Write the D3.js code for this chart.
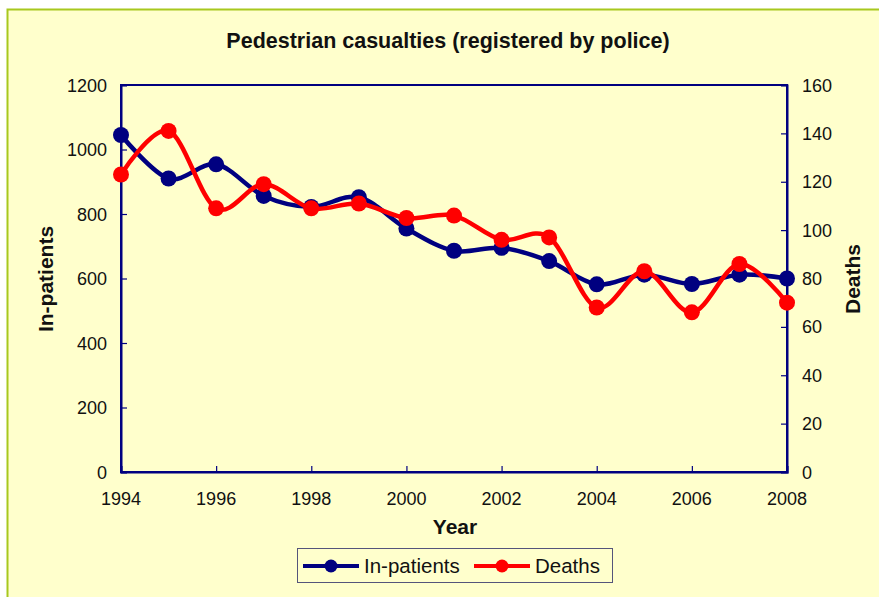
<!DOCTYPE html>
<html><head><meta charset="utf-8">
<script src="https://cdn.jsdelivr.net/npm/d3@7"></script>
<style>body{margin:0;background:#fff;}svg{display:block;font-family:"Liberation Sans",Arial,sans-serif;}</style>
</head><body><svg id="c" width="879" height="597"></svg>
<script>
const years = [1994,1995,1996,1997,1998,1999,2000,2001,2002,2003,2004,2005,2006,2007,2008];
const inpatients = [1045,910,954,856,822,852,755,686,695,654,582,612,583,612,600];
const deaths = [123,141,109,119,109,111,105,106,96,97,68,83,66,86,70];
const leftTicks = [0,200,400,600,800,1000,1200];
const rightTicks = [0,20,40,60,80,100,120,140,160];
const xTicks = [1994,1996,1998,2000,2002,2004,2006,2008];
const seriesNames = ["In-patients","Deaths"];
const seriesColors = ["#000080","#FF0000"];

const svg = d3.select("#c");
const L=121,R=787,T=85,B=472;
svg.append("rect").attr("x",7.5).attr("y",9.5).attr("width",879).attr("height",597)
  .attr("fill","#FFFFCC").attr("stroke","#A8C81E").attr("stroke-width",2);

const x = d3.scaleLinear().domain([1994,2008]).range([L,R]);
const yL = d3.scaleLinear().domain([0,1200]).range([B,T]);
const yR = d3.scaleLinear().domain([0,160]).range([B,T]);

svg.append("rect").attr("x",L).attr("y",T).attr("width",R-L).attr("height",B-T)
  .attr("fill","#FFFFCC").attr("stroke","#000080").attr("stroke-width",2);

const txt="#111";
const gl = svg.append("g").attr("transform",`translate(${L},0)`)
  .call(d3.axisRight(yL).tickValues(leftTicks).tickSize(6).tickFormat(""));
const gr = svg.append("g").attr("transform",`translate(${R},0)`)
  .call(d3.axisLeft(yR).tickValues(rightTicks).tickSize(6).tickFormat(""));
const gx = svg.append("g").attr("transform",`translate(0,${B})`)
  .call(d3.axisTop(x).tickValues(xTicks).tickSize(6).tickFormat(""));
[gl,gr,gx].forEach(g=>{g.select(".domain").attr("stroke","#000080").attr("stroke-width",2);
  g.selectAll(".tick line").attr("stroke","#000080").attr("stroke-width",1.2);});

const tfs=18;
svg.selectAll(".lt").data(leftTicks).join("text").attr("x",107).attr("y",d=>yL(d)+6.5)
  .attr("text-anchor","end").attr("font-size",tfs).attr("fill",txt).text(d=>d);
svg.selectAll(".rt").data(rightTicks).join("text").attr("x",802).attr("y",d=>yR(d)+6.5)
  .attr("text-anchor","start").attr("font-size",tfs).attr("fill",txt).text(d=>d);
svg.selectAll(".xt").data(xTicks).join("text").attr("x",d=>x(d)).attr("y",505)
  .attr("text-anchor","middle").attr("font-size",tfs).attr("fill",txt).text(d=>d);

svg.append("text").attr("x",448).attr("y",48).attr("text-anchor","middle").attr("font-size",21.5)
  .attr("font-weight","bold").attr("fill",txt).text("Pedestrian casualties (registered by police)");
svg.append("text").attr("x",455).attr("y",534).attr("text-anchor","middle").attr("font-size",21)
  .attr("font-weight","bold").attr("fill",txt).text("Year");
svg.append("text").attr("transform","translate(53,279) rotate(-90)").attr("text-anchor","middle")
  .attr("font-size",21).attr("font-weight","bold").attr("fill",txt).text("In-patients");
svg.append("text").attr("transform","translate(860,279) rotate(-90)").attr("text-anchor","middle")
  .attr("font-size",21).attr("font-weight","bold").attr("fill",txt).text("Deaths");

const series = [
  {vals:inpatients, y:yL},
  {vals:deaths, y:yR}
];
series.forEach((s,i)=>{
  const line = d3.line().x((d,j)=>x(years[j])).y(d=>s.y(d)).curve(d3.curveCardinal.tension(0));
  svg.append("path").datum(s.vals).attr("d",line).attr("fill","none")
    .attr("stroke",seriesColors[i]).attr("stroke-width",4.5);
  svg.append("g").selectAll("circle").data(s.vals).join("circle")
    .attr("cx",(d,j)=>x(years[j])).attr("cy",d=>s.y(d)).attr("r",8).attr("fill",seriesColors[i]);
});

// legend
svg.append("rect").attr("x",297.5).attr("y",548.5).attr("width",315).attr("height",34)
  .attr("fill","#FFFFCC").attr("stroke","#55557A").attr("stroke-width",1);
const leg = [{x0:303,tx:364},{x0:474,tx:535}];
leg.forEach((l,i)=>{
  svg.append("line").attr("x1",l.x0).attr("x2",l.x0+56).attr("y1",566).attr("y2",566)
    .attr("stroke",seriesColors[i]).attr("stroke-width",4);
  svg.append("circle").attr("cx",l.x0+28).attr("cy",566).attr("r",6.5).attr("fill",seriesColors[i]);
  svg.append("text").attr("x",l.tx).attr("y",573).attr("font-size",20.5).attr("fill",txt).text(seriesNames[i]);
});
</script></body></html>
